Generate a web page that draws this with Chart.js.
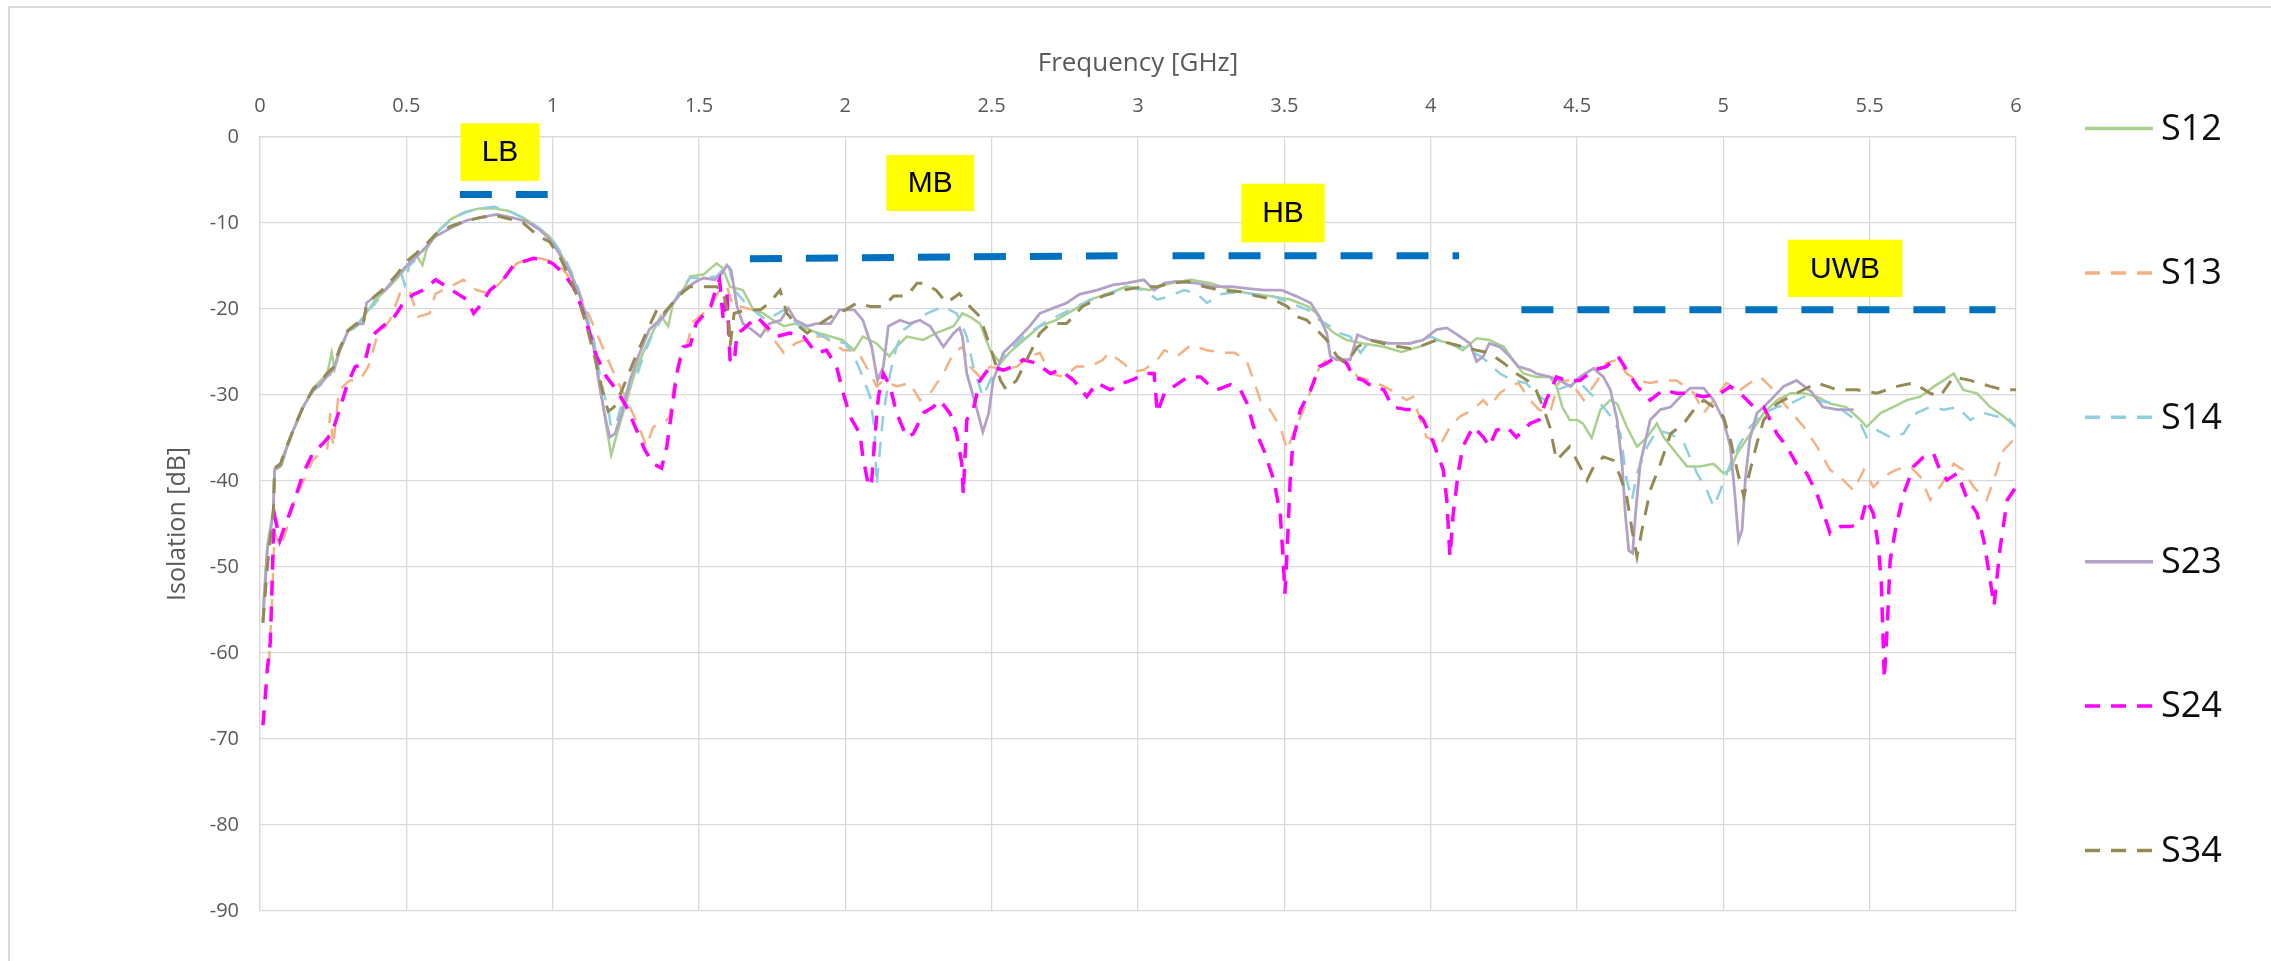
<!DOCTYPE html>
<html>
<head>
<meta charset="utf-8">
<title>Isolation vs Frequency</title>
<script src="https://cdn.jsdelivr.net/npm/chart.js@4.4.1/dist/chart.umd.min.js"></script>
<style>
  html, body { margin: 0; padding: 0; background: #fff; }
  #wrap { position: relative; width: 2271px; height: 961px; }
</style>
</head>
<body>
<div id="wrap"><canvas id="chart"></canvas></div>
<script>
// tick labels
const freqTicks = [0, 0.5, 1, 1.5, 2, 2.5, 3, 3.5, 4, 4.5, 5, 5.5, 6];
const dbTicks = [0, -10, -20, -30, -40, -50, -60, -70, -80, -90];

// measured isolation, [GHz, dB]
const s12 = [[0.01,-55],[0.025,-47.5],[0.045,-43.5],[0.05,-38.5],[0.07,-38],[0.08,-37],[0.114,-34],[0.148,-31.3],[0.182,-29.2],[0.21,-28.2],[0.23,-27.5],[0.245,-25.1],[0.255,-27],[0.273,-24.8],[0.3,-22.6],[0.33,-22],[0.36,-20.6],[0.393,-19],[0.427,-17.9],[0.467,-16.5],[0.5,-15.2],[0.535,-13.8],[0.555,-14.9],[0.57,-13],[0.6,-11.3],[0.65,-9.6],[0.7,-8.7],[0.75,-8.3],[0.8,-8.3],[0.85,-8.6],[0.9,-9.4],[0.95,-10.5],[0.99,-11.6],[1.025,-13.4],[1.06,-15.6],[1.093,-18.3],[1.116,-21],[1.14,-24.2],[1.16,-28.5],[1.18,-33],[1.2,-37],[1.22,-34.5],[1.25,-31],[1.28,-27.5],[1.31,-25],[1.34,-22.8],[1.37,-20.8],[1.395,-22],[1.41,-19.5],[1.446,-17.8],[1.47,-16.2],[1.515,-16],[1.56,-14.7],[1.58,-15.2],[1.606,-17.4],[1.65,-17.8],[1.686,-20.1],[1.72,-20.5],[1.754,-21.3],[1.79,-22],[1.83,-21.7],[1.89,-22.6],[1.95,-23.2],[1.99,-23.6],[2.03,-24.8],[2.06,-23.2],[2.107,-24],[2.15,-25.5],[2.175,-24.4],[2.21,-23.2],[2.266,-23.6],[2.31,-22.8],[2.37,-22],[2.4,-20.5],[2.426,-20.9],[2.46,-21.7],[2.495,-24.8],[2.53,-26.3],[2.56,-25.1],[2.61,-23.6],[2.665,-22],[2.72,-21.3],[2.78,-20.1],[2.836,-18.9],[2.9,-18.2],[2.96,-17.4],[3.04,-17.8],[3.11,-17],[3.18,-16.6],[3.25,-17],[3.32,-17.8],[3.38,-18.2],[3.45,-18.5],[3.52,-18.9],[3.58,-19.7],[3.61,-20.5],[3.634,-21.7],[3.67,-22.8],[3.713,-23.6],[3.77,-24],[3.84,-24.4],[3.9,-25],[3.96,-24.4],[4.02,-23.6],[4.066,-24],[4.11,-24.8],[4.157,-23.4],[4.2,-23.6],[4.25,-24.4],[4.28,-25.9],[4.316,-27.5],[4.36,-27.9],[4.407,-27.9],[4.43,-29],[4.45,-31.4],[4.475,-32.9],[4.5,-32.9],[4.52,-33.3],[4.55,-35],[4.58,-31.7],[4.614,-30.6],[4.637,-31],[4.67,-33.7],[4.705,-36],[4.74,-34.9],[4.773,-33.3],[4.796,-34.9],[4.84,-36.8],[4.876,-38.3],[4.92,-38.3],[4.967,-38],[5.0,-39.1],[5.024,-38.7],[5.047,-36.8],[5.092,-34.5],[5.138,-32.1],[5.183,-30.6],[5.23,-29.8],[5.275,-29.8],[5.32,-30.2],[5.365,-31],[5.42,-31.4],[5.468,-32.9],[5.49,-33.7],[5.537,-32.1],[5.58,-31.4],[5.627,-30.6],[5.673,-30.2],[5.72,-29],[5.753,-28.3],[5.787,-27.5],[5.82,-29.4],[5.867,-29.8],[5.912,-31.4],[5.958,-32.5],[6.0,-33.7]];

const s13 = [[0.03,-61.5],[0.04,-55],[0.05,-46],[0.07,-47.7],[0.09,-45.7],[0.114,-42.6],[0.148,-40],[0.18,-37.6],[0.205,-36.8],[0.23,-36.2],[0.24,-32.1],[0.25,-36],[0.27,-29.4],[0.307,-28.3],[0.34,-28.3],[0.37,-26.7],[0.4,-23.2],[0.444,-21.3],[0.478,-18.2],[0.51,-17.8],[0.54,-20.9],[0.58,-20.5],[0.6,-18.2],[0.65,-17.4],[0.695,-16.6],[0.74,-17.8],[0.785,-18.2],[0.83,-16.6],[0.877,-14.7],[0.91,-14.3],[0.956,-14.1],[1.0,-14.5],[1.036,-15.4],[1.08,-17.4],[1.127,-20.9],[1.17,-24.4],[1.22,-28.3],[1.264,-31.4],[1.3,-34.1],[1.32,-36],[1.344,-33.7],[1.378,-33.3],[1.4,-32.5],[1.41,-29.8],[1.435,-25.5],[1.457,-24.4],[1.48,-21.5],[1.515,-20.5],[1.54,-19.7],[1.57,-17.8],[1.595,-17.4],[1.617,-19.7],[1.64,-19.7],[1.686,-20.1],[1.73,-22.4],[1.79,-25.1],[1.83,-24],[1.89,-23.2],[1.925,-23.2],[1.96,-24],[1.993,-24.8],[2.04,-24.8],[2.085,-27.5],[2.107,-29],[2.13,-28.3],[2.175,-29],[2.22,-28.6],[2.255,-30.6],[2.29,-29.8],[2.335,-27.5],[2.37,-25.1],[2.4,-24.4],[2.426,-26.7],[2.46,-27.9],[2.495,-26.7],[2.54,-27.1],[2.585,-26.7],[2.63,-25.5],[2.665,-25.1],[2.7,-27.5],[2.745,-27.9],[2.79,-26.7],[2.836,-26.7],[2.88,-25.9],[2.9,-25.1],[2.95,-26.3],[2.98,-27.3],[3.02,-27.1],[3.066,-25.9],[3.09,-24.8],[3.134,-25.5],[3.18,-24.2],[3.236,-24.8],[3.293,-25.1],[3.33,-25.1],[3.37,-25.9],[3.395,-28.3],[3.418,-30.6],[3.45,-31.7],[3.486,-33.7],[3.51,-36.4],[3.53,-34.5],[3.566,-31.7],[3.6,-28.6],[3.62,-26.7],[3.657,-25.5],[3.69,-25.9],[3.725,-26.7],[3.75,-27.9],[3.793,-28.3],[3.84,-29],[3.884,-29.8],[3.918,-30.6],[3.94,-30.2],[3.964,-32.9],[3.986,-34.9],[4.01,-35.2],[4.03,-36],[4.066,-33.7],[4.1,-32.5],[4.145,-31.7],[4.18,-30.6],[4.2,-31.4],[4.236,-29.8],[4.27,-29],[4.3,-28.6],[4.34,-30.6],[4.37,-31.7],[4.407,-32.1],[4.44,-28.3],[4.475,-28.3],[4.5,-29.5],[4.523,-30.6],[4.57,-28.3],[4.6,-26.3],[4.637,-25.9],[4.67,-27.5],[4.705,-28.3],[4.75,-28.6],[4.796,-28.3],[4.84,-28.3],[4.9,-29.8],[4.933,-32.1],[4.967,-30.6],[5.01,-28.6],[5.058,-29.4],[5.104,-28.3],[5.126,-27.9],[5.16,-29],[5.217,-31.4],[5.275,-33.7],[5.32,-36],[5.365,-38.7],[5.41,-39.9],[5.445,-41.1],[5.48,-38.7],[5.513,-40.7],[5.547,-39.5],[5.59,-38.7],[5.638,-38.3],[5.673,-39.5],[5.707,-42.2],[5.74,-40.7],[5.787,-38],[5.82,-38.7],[5.855,-40.7],[5.9,-42.2],[5.924,-39.9],[5.958,-36.4],[6.0,-34.9]];

const s14 = [[0.01,-56],[0.025,-48],[0.045,-43.7],[0.05,-39.2],[0.07,-38.6],[0.08,-37.5],[0.114,-34],[0.148,-31.3],[0.182,-29.5],[0.21,-28.8],[0.24,-27.6],[0.27,-25],[0.3,-22.8],[0.33,-22],[0.36,-20.5],[0.39,-19.5],[0.43,-17.7],[0.48,-15.6],[0.495,-17.2],[0.51,-15],[0.55,-13.6],[0.6,-11.2],[0.65,-9.7],[0.7,-8.8],[0.75,-8.3],[0.8,-8.1],[0.85,-8.6],[0.9,-9.4],[0.95,-10.5],[1.0,-12],[1.04,-14],[1.08,-16.8],[1.11,-20],[1.14,-23.5],[1.165,-28.5],[1.19,-31.7],[1.2,-33.8],[1.22,-33],[1.24,-30.5],[1.27,-28.5],[1.29,-27.5],[1.31,-25.5],[1.34,-23],[1.37,-21.3],[1.41,-19.5],[1.44,-17.6],[1.47,-16.4],[1.515,-16.4],[1.56,-16.2],[1.6,-14.7],[1.62,-17.8],[1.67,-19.7],[1.73,-21.3],[1.79,-20.1],[1.845,-22],[1.9,-22.8],[1.95,-23.6],[2.0,-24],[2.03,-25.5],[2.05,-27.1],[2.085,-30.2],[2.1,-34.1],[2.107,-40.5],[2.113,-38.3],[2.13,-32.1],[2.153,-27.5],[2.175,-24.4],[2.2,-22.4],[2.245,-21.3],[2.28,-20.5],[2.335,-19.7],[2.38,-20.5],[2.415,-23.2],[2.437,-26.7],[2.47,-30.2],[2.495,-28.3],[2.54,-25.5],[2.61,-23.2],[2.676,-21.7],[2.72,-20.9],[2.79,-19.7],[2.87,-18.5],[2.94,-17.8],[2.98,-17.6],[3.02,-17.8],[3.066,-18.9],[3.11,-18.5],[3.157,-17.8],[3.2,-18.2],[3.236,-19.3],[3.28,-18.3],[3.34,-18],[3.41,-18.3],[3.46,-18.5],[3.52,-19.3],[3.58,-20.1],[3.62,-21.3],[3.657,-22],[3.69,-22.8],[3.725,-23.2],[3.76,-25.1],[3.793,-23.6],[3.86,-24],[3.93,-24],[4.0,-23.2],[4.055,-24],[4.11,-24.4],[4.17,-25.5],[4.2,-26.3],[4.236,-27.5],[4.28,-28.3],[4.325,-28.6],[4.36,-29.8],[4.39,-30.6],[4.43,-29.4],[4.464,-29],[4.51,-28.6],[4.557,-30.2],[4.59,-31.4],[4.625,-32.9],[4.648,-34.5],[4.67,-39.9],[4.688,-42.2],[4.705,-39.1],[4.74,-36],[4.773,-34.1],[4.82,-34.5],[4.865,-35.6],[4.91,-39.1],[4.944,-41.1],[4.967,-43],[4.99,-41.1],[5.024,-38],[5.058,-35.6],[5.092,-33.7],[5.138,-32.1],[5.183,-31.4],[5.23,-31],[5.275,-30.2],[5.32,-30.6],[5.377,-31],[5.42,-32.1],[5.468,-33.3],[5.49,-34.9],[5.525,-34.1],[5.57,-34.9],[5.616,-34.5],[5.66,-32.1],[5.707,-31.4],[5.753,-31.7],[5.8,-31.4],[5.844,-32.9],[5.89,-32.1],[5.935,-32.5],[5.97,-32.5],[6.0,-33.7]];

const s23 = [[0.01,-56.4],[0.025,-48],[0.045,-43.8],[0.05,-38.7],[0.07,-38.3],[0.08,-37.2],[0.114,-34.1],[0.148,-31.4],[0.182,-29.4],[0.21,-28.6],[0.228,-27.9],[0.25,-27.1],[0.273,-24.8],[0.3,-22.6],[0.33,-21.8],[0.353,-21.7],[0.364,-19.3],[0.393,-18.5],[0.427,-17.8],[0.467,-16.2],[0.5,-15],[0.535,-13.9],[0.57,-12.7],[0.598,-11.6],[0.65,-10.6],[0.706,-9.7],[0.763,-9.3],[0.81,-9],[0.865,-9.4],[0.91,-9.8],[0.956,-10.8],[0.99,-11.9],[1.025,-13.7],[1.06,-15.8],[1.093,-18.5],[1.116,-21.3],[1.14,-24.4],[1.16,-29],[1.184,-33.3],[1.195,-34.9],[1.213,-34.5],[1.236,-32.1],[1.264,-28.3],[1.293,-25.5],[1.33,-22.4],[1.378,-20.9],[1.41,-19.3],[1.446,-17.8],[1.49,-16.8],[1.515,-16.4],[1.555,-16.6],[1.58,-15.8],[1.595,-14.9],[1.61,-15.5],[1.63,-19.7],[1.65,-21.7],[1.68,-22.4],[1.71,-23.2],[1.74,-21.7],[1.78,-21.3],[1.805,-19.9],[1.83,-21.3],[1.87,-22],[1.9,-21.7],[1.95,-21.7],[1.98,-20.1],[2.03,-20.1],[2.06,-21.3],[2.09,-24.4],[2.11,-28.3],[2.13,-26.7],[2.147,-22],[2.187,-21.3],[2.22,-21.7],[2.255,-21.3],[2.29,-22],[2.335,-24.4],[2.37,-22.8],[2.39,-22.2],[2.4,-23.2],[2.415,-27.5],[2.45,-31.7],[2.47,-34.3],[2.49,-32.1],[2.505,-28.3],[2.54,-25.1],[2.585,-23.6],[2.63,-22],[2.665,-20.5],[2.71,-19.9],[2.756,-19.3],[2.8,-18.3],[2.86,-17.8],[2.915,-17.2],[2.96,-17],[3.02,-16.6],[3.055,-17.8],[3.09,-17],[3.13,-16.8],[3.2,-17],[3.26,-17.4],[3.32,-17.4],[3.37,-17.6],[3.43,-17.8],[3.49,-17.8],[3.54,-18.5],[3.59,-19.3],[3.62,-20.9],[3.645,-22.8],[3.657,-25.5],[3.68,-25.9],[3.725,-25.9],[3.75,-23],[3.793,-23.6],[3.86,-24],[3.93,-24],[3.975,-23.6],[4.02,-22.4],[4.055,-22.2],[4.1,-23.2],[4.134,-24],[4.157,-26.1],[4.18,-25.5],[4.2,-24],[4.236,-24.4],[4.27,-25.5],[4.3,-26.7],[4.34,-27.1],[4.36,-27.5],[4.407,-27.9],[4.44,-28.3],[4.478,-29],[4.51,-27.9],[4.557,-26.9],[4.59,-27.9],[4.614,-29.4],[4.637,-32.9],[4.654,-38],[4.665,-43.8],[4.677,-48.1],[4.69,-48.4],[4.7,-43.8],[4.716,-38],[4.75,-32.9],[4.785,-31.7],[4.82,-31.4],[4.853,-30.2],[4.887,-29.2],[4.933,-29.2],[4.967,-30.6],[5.0,-32.9],[5.024,-36],[5.04,-41.8],[5.052,-46.9],[5.064,-45.7],[5.075,-39.9],[5.09,-35.2],[5.115,-32.1],[5.138,-31.4],[5.17,-30.3],[5.206,-29],[5.25,-28.3],[5.3,-29.6],[5.34,-31.4],[5.39,-31.7],[5.445,-31.7]];

const s24 = [[0.01,-68.4],[0.02,-64.2],[0.025,-61.9],[0.035,-58.8],[0.04,-53.7],[0.045,-47.2],[0.05,-44],[0.068,-46.9],[0.08,-45.7],[0.114,-42.6],[0.148,-39.1],[0.18,-36.8],[0.216,-35.6],[0.245,-34.5],[0.268,-32.1],[0.296,-29],[0.325,-26.7],[0.345,-26.5],[0.36,-25.9],[0.38,-23.2],[0.42,-22],[0.455,-21.1],[0.49,-19.3],[0.524,-18.3],[0.558,-17.8],[0.6,-16.6],[0.638,-17.4],[0.678,-18.3],[0.706,-18.9],[0.73,-20.5],[0.75,-19.7],[0.786,-17.8],[0.83,-16.6],[0.865,-15],[0.9,-14.5],[0.934,-14.1],[0.968,-14.3],[1.0,-14.7],[1.036,-15.8],[1.07,-17.4],[1.093,-19.3],[1.116,-21.7],[1.15,-25.5],[1.184,-27.9],[1.218,-29.4],[1.253,-31.4],[1.287,-34.1],[1.315,-36.4],[1.344,-38],[1.372,-38.5],[1.39,-36],[1.406,-32.1],[1.424,-27.5],[1.446,-24.4],[1.47,-24.2],[1.49,-21.7],[1.54,-19.7],[1.56,-17.4],[1.57,-16.6],[1.583,-21.3],[1.595,-17.8],[1.606,-25.9],[1.62,-26.3],[1.63,-22.8],[1.65,-22.4],[1.697,-20.9],[1.73,-22],[1.765,-23.2],[1.81,-22.8],[1.857,-23.2],[1.9,-25.1],[1.936,-24.8],[1.97,-26.7],[1.993,-29.8],[2.016,-32.5],[2.05,-34.5],[2.06,-37.2],[2.08,-40.7],[2.09,-40],[2.1,-35.2],[2.113,-30.2],[2.13,-27.5],[2.153,-29],[2.175,-32.1],[2.21,-34.9],[2.232,-34.5],[2.244,-33.7],[2.266,-32.1],[2.3,-31.4],[2.323,-30.6],[2.357,-32.1],[2.38,-34.5],[2.398,-38],[2.403,-41.5],[2.415,-32.9],[2.437,-31.7],[2.46,-28.3],[2.495,-26.7],[2.54,-27.1],[2.574,-26.7],[2.608,-25.9],[2.653,-26.3],[2.7,-27.5],[2.733,-27.1],[2.78,-28.3],[2.825,-30.2],[2.86,-28.6],[2.905,-29.4],[2.95,-28.6],[2.985,-28.2],[3.02,-27.5],[3.055,-27.5],[3.066,-32.1],[3.09,-29.8],[3.123,-29],[3.17,-27.9],[3.214,-27.9],[3.236,-28.6],[3.27,-29.4],[3.316,-28.8],[3.35,-29.4],[3.373,-31],[3.395,-33.7],[3.43,-36.4],[3.464,-39.9],[3.486,-43.8],[3.497,-49.6],[3.502,-53.1],[3.51,-47.7],[3.52,-39.9],[3.53,-35.2],[3.555,-31.7],[3.59,-29.4],[3.62,-26.7],[3.645,-26.3],[3.68,-25.5],[3.713,-26.3],[3.736,-27.9],[3.77,-28.3],[3.8,-29],[3.84,-29.4],[3.87,-31.4],[3.918,-31.7],[3.94,-31.7],[3.975,-32.9],[4.01,-35.6],[4.043,-38.7],[4.055,-42.2],[4.066,-48.8],[4.077,-43.8],[4.094,-39.1],[4.11,-36],[4.145,-33.7],[4.18,-34.9],[4.2,-36],[4.225,-34.1],[4.26,-33.7],[4.293,-34.9],[4.34,-33.3],[4.37,-32.9],[4.395,-30.6],[4.43,-27.9],[4.464,-28.3],[4.51,-28.3],[4.557,-27.1],[4.6,-26.7],[4.64,-25.5],[4.67,-27.1],[4.705,-29],[4.75,-30.6],[4.796,-29.4],[4.84,-29.8],[4.876,-29.8],[4.933,-30.2],[4.99,-29.8],[5.024,-29],[5.07,-30.2],[5.104,-31.4],[5.138,-31.4],[5.16,-32.9],[5.183,-34.5],[5.217,-36],[5.25,-38],[5.285,-39.1],[5.32,-41.5],[5.343,-43.8],[5.365,-46.1],[5.4,-45.3],[5.434,-45.3],[5.468,-45],[5.49,-42.2],[5.513,-43.8],[5.53,-47.7],[5.54,-52],[5.55,-63],[5.56,-57],[5.57,-49.2],[5.59,-45.3],[5.616,-41.5],[5.65,-38.3],[5.684,-37.2],[5.718,-36.8],[5.74,-38.7],[5.764,-39.9],[5.8,-39.1],[5.83,-41.8],[5.867,-43.8],[5.89,-46.9],[5.912,-51.6],[5.925,-54.5],[5.946,-47.7],[5.97,-42.2],[6.0,-40.7]];

const s34 = [[0.01,-56.5],[0.025,-50],[0.046,-43.3],[0.05,-38.5],[0.07,-38],[0.08,-37],[0.114,-34],[0.148,-31.3],[0.182,-29.3],[0.21,-28.4],[0.228,-27.5],[0.25,-26.8],[0.273,-24.5],[0.3,-22.5],[0.33,-21.7],[0.35,-22.2],[0.364,-19.5],[0.393,-18.5],[0.427,-17.5],[0.467,-16],[0.5,-14.5],[0.535,-13.5],[0.57,-12.4],[0.6,-11.3],[0.65,-10.4],[0.7,-9.8],[0.75,-9.4],[0.8,-9.1],[0.85,-9.5],[0.9,-10],[0.95,-11.5],[0.99,-12.2],[1.025,-14],[1.06,-16.5],[1.093,-19.3],[1.12,-22.5],[1.15,-26.5],[1.17,-29.5],[1.19,-31.9],[1.21,-31.4],[1.236,-29.5],[1.26,-27.5],[1.29,-25],[1.33,-22],[1.36,-19.8],[1.38,-20.5],[1.41,-19.3],[1.446,-18],[1.47,-17.4],[1.515,-17.4],[1.56,-17.4],[1.58,-17.8],[1.6,-20.5],[1.606,-24.4],[1.62,-20.5],[1.66,-20.1],[1.71,-20.1],[1.74,-19.3],[1.777,-17.8],[1.8,-20.5],[1.83,-21.7],[1.87,-22.8],[1.9,-22],[1.95,-20.9],[2.0,-20.1],[2.04,-19.3],[2.085,-19.7],[2.13,-19.7],[2.165,-18.5],[2.21,-18.5],[2.245,-17],[2.266,-17],[2.31,-17.8],[2.346,-19.3],[2.39,-18.2],[2.425,-19.7],[2.46,-20.9],[2.483,-23.2],[2.505,-25.5],[2.53,-28.3],[2.55,-29.4],[2.585,-28.3],[2.62,-25.9],[2.665,-22.8],[2.7,-21.7],[2.756,-21.7],[2.81,-19.7],[2.88,-18.5],[2.95,-17.8],[3.02,-17.4],[3.066,-17.4],[3.11,-17],[3.17,-16.8],[3.225,-17.4],[3.28,-17.8],[3.35,-18],[3.407,-18.5],[3.464,-18.9],[3.51,-19.7],[3.543,-20.9],[3.577,-21.3],[3.61,-22.4],[3.645,-23.6],[3.68,-25.5],[3.713,-26.3],[3.75,-24.4],[3.793,-23.6],[3.86,-24.2],[3.93,-24.6],[3.975,-24.2],[4.02,-23.6],[4.066,-24],[4.11,-24.4],[4.157,-24.8],[4.2,-25.1],[4.25,-26.3],[4.293,-27.5],[4.33,-28.3],[4.36,-29.4],[4.384,-31.4],[4.407,-33.7],[4.43,-37.6],[4.452,-36.8],[4.475,-36],[4.51,-38.3],[4.534,-39.9],[4.557,-38.3],[4.59,-37.2],[4.625,-37.6],[4.648,-39.5],[4.67,-41.8],[4.688,-45.7],[4.705,-48.8],[4.722,-45.7],[4.75,-41.1],[4.785,-38],[4.82,-34.5],[4.865,-33.3],[4.9,-31.7],[4.933,-30.6],[4.967,-31.4],[5.0,-32.5],[5.024,-35.2],[5.047,-38.7],[5.07,-41.8],[5.092,-38.7],[5.115,-35.6],[5.138,-32.9],[5.183,-31],[5.25,-29.8],[5.32,-28.6],[5.39,-29.4],[5.457,-29.4],[5.525,-29.8],[5.593,-29],[5.65,-28.6],[5.707,-29.8],[5.74,-30.2],[5.787,-27.9],[5.844,-28.3],[5.912,-29],[5.958,-29.4],[6.0,-29.4]];

const seriesNames = ["S12", "S13", "S14", "S23", "S24", "S34"];
const seriesData = [s12, s13, s14, s23, s24, s34];

// frequency bands drawn as dashed markers
const bandNames = ["LB", "MB", "HB", "UWB"];
const bandStart = [0.683, 1.674, 3.118, 4.31];
const bandEnd = [0.983, 2.93, 4.097, 5.93];
const bandLevelStart = [-6.7, -14.15, -13.8, -20.1];
const bandLevelEnd = [-6.7, -13.8, -13.8, -20.1];

// styles (kept apart from the data)
const seriesStyle = {
  S12: { color: "#A9D18E", width: 2.5, dash: [] },
  S13: { color: "#F4B183", width: 2.5, dash: [15, 11] },
  S14: { color: "#8FCFE0", width: 2.5, dash: [15, 11] },
  S23: { color: "#B3A2C7", width: 2.8, dash: [] },
  S24: { color: "#FF00FF", width: 3.5, dash: [15, 11] },
  S34: { color: "#948A54", width: 3, dash: [15, 11] },
};
// label boxes in axis units: left, right, top, bottom
const bandBoxes = {
  LB: [0.685, 0.955, 1.6, -5.1],
  MB: [2.14, 2.44, -2.1, -8.6],
  HB: [3.353, 3.638, -5.43, -12.25],
  UWB: [5.22, 5.612, -11.94, -18.6],
};

const datasets = seriesNames.map((name, i) => ({
  label: name,
  data: seriesData[i].map(p => ({ x: p[0], y: p[1] })),
  borderColor: seriesStyle[name].color,
  borderWidth: seriesStyle[name].width,
  borderDash: seriesStyle[name].dash,
  pointRadius: 0,
  tension: 0,
  fill: false,
  order: seriesNames.length - i,
}));

bandNames.forEach((name, i) => {
  datasets.push({
    label: name,
    data: [{ x: bandStart[i], y: bandLevelStart[i] }, { x: bandEnd[i], y: bandLevelEnd[i] }],
    borderColor: "#0070C0",
    borderWidth: 7,
    borderDash: [32, 24],
    borderCapStyle: "butt",
    pointRadius: 0,
    fill: false,
    order: -1,
  });
});

const decor = {
  id: "decor",
  beforeDraw(chart) {
    const ctx = chart.ctx;
    ctx.save();
    ctx.strokeStyle = "#d9d9d9";
    ctx.lineWidth = 2;
    ctx.strokeRect(9, 7, chart.width + 40, chart.height + 40);
    ctx.restore();
  },
  afterDatasetsDraw(chart) {
    const { ctx, scales: { x, y } } = chart;
    ctx.save();
    ctx.font = '30px "Liberation Sans", Arial, sans-serif';
    ctx.textAlign = "center";
    ctx.textBaseline = "middle";
    bandNames.forEach(name => {
      const b = bandBoxes[name];
      const l = x.getPixelForValue(b[0]), r = x.getPixelForValue(b[1]);
      const t = y.getPixelForValue(b[2]), btm = y.getPixelForValue(b[3]);
      ctx.fillStyle = "#FFFF00";
      ctx.fillRect(l, t, r - l, btm - t);
      ctx.fillStyle = "#000";
      ctx.fillText(name, (l + r) / 2, (t + btm) / 2 + 1);
    });
    ctx.restore();
  },
  afterDraw(chart) {
    // legend on the right, one entry per series
    const ctx = chart.ctx;
    ctx.save();
    ctx.font = '36px "Open Sans", sans-serif';
    ctx.textBaseline = "middle";
    ctx.textAlign = "left";
    seriesNames.forEach((name, i) => {
      const st = seriesStyle[name];
      const yy = 128.5 + i * 144.4;
      ctx.strokeStyle = st.color;
      ctx.lineWidth = 3.5;
      ctx.setLineDash(st.dash);
      ctx.beginPath();
      ctx.moveTo(2085, yy);
      ctx.lineTo(2153, yy);
      ctx.stroke();
      ctx.setLineDash([]);
      ctx.fillStyle = "#0d0d0d";
      ctx.fillText(name, 2161, yy + 1);
    });
    ctx.restore();
  },
};

Chart.defaults.font.family = '"Open Sans", sans-serif';

new Chart(document.getElementById("chart"), {
  type: "line",
  data: { datasets },
  plugins: [decor],
  options: {
    responsive: true,
    maintainAspectRatio: false,
    animation: false,
    layout: { padding: { left: 0, right: 255, top: 0, bottom: 50 } },
    plugins: { legend: { display: false }, tooltip: { enabled: false } },
    scales: {
      x: {
        type: "linear",
        position: "top",
        min: 0,
        max: 6,
        afterBuildTicks: s => { s.ticks = freqTicks.map(v => ({ value: v })); },
        afterFit: s => { s.height = 137; },
        ticks: { font: { size: 20 }, color: "#595959", padding: 19, maxRotation: 0, callback: v => String(v) },
        grid: { color: "#d9d9d9", lineWidth: 1.3, drawTicks: false },
        border: { color: "#d9d9d9", width: 1.3 },
        title: { display: true, text: "Frequency [GHz]", font: { size: 26 }, color: "#595959", padding: { top: 48 } },
      },
      y: {
        min: -90,
        max: 0,
        afterBuildTicks: s => { s.ticks = dbTicks.map(v => ({ value: v })); },
        afterFit: s => { s.width = 260; },
        ticks: { font: { size: 20 }, color: "#595959", padding: 21, callback: v => String(v) },
        grid: { color: "#d9d9d9", lineWidth: 1.3, drawTicks: false },
        border: { color: "#d9d9d9", width: 1.3 },
        title: { display: true, text: "Isolation [dB]", font: { size: 25 }, color: "#595959", padding: { top: 163 } },
      },
    },
  },
});
</script>
</body>
</html>
